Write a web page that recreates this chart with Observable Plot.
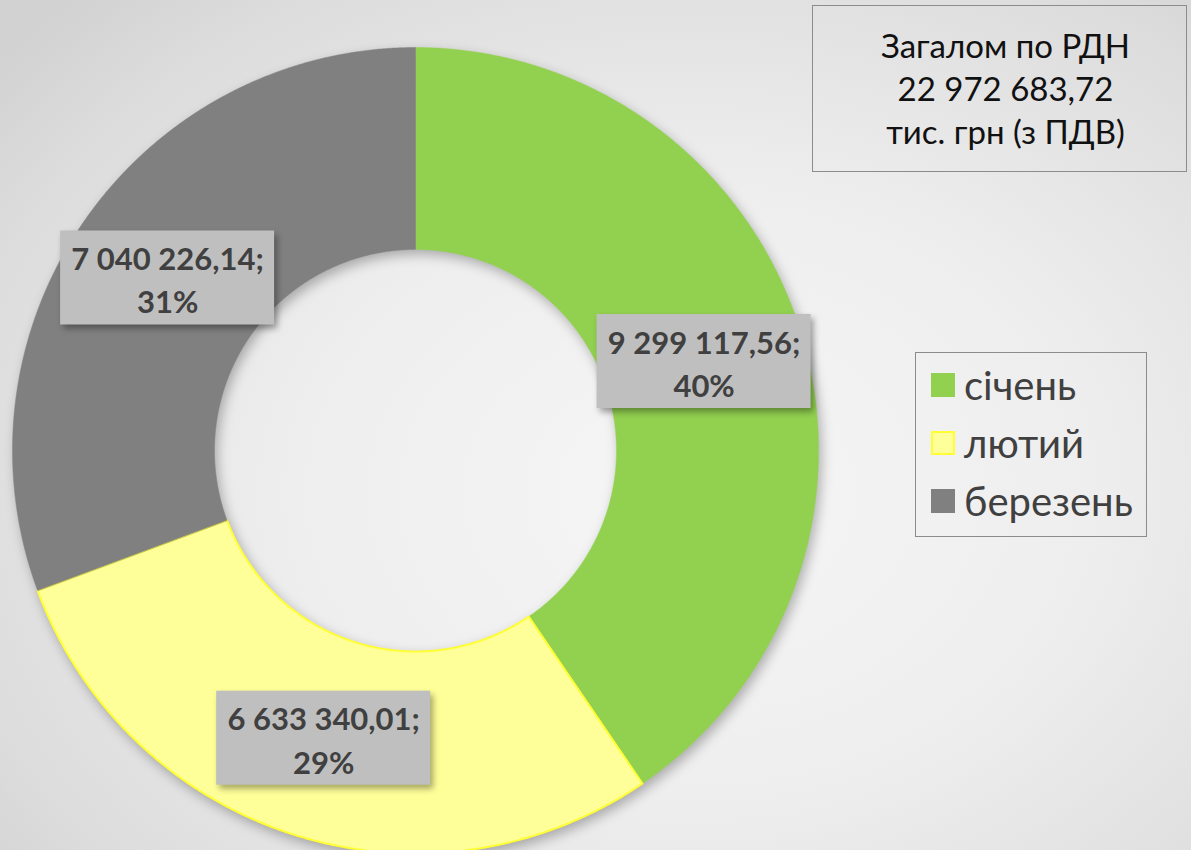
<!DOCTYPE html>
<html>
<head>
<meta charset="utf-8">
<script src="https://cdn.jsdelivr.net/npm/d3@7"></script>
<script src="https://cdn.jsdelivr.net/npm/@observablehq/plot@0.6"></script>
<style>
  html, body { margin: 0; padding: 0; }
  body {
    width: 1191px; height: 850px; overflow: hidden; position: relative;
    background: radial-gradient(ellipse 75% 80% at 58% 58%, #f6f6f6 0%, #eeeeee 45%, #dcdcdc 85%, #d2d2d2 100%);
    font-family: Lato, "Open Sans", sans-serif;
  }
  #chart { position: absolute; left: 0; top: 0; }
  .titlebox {
    position: absolute; left: 812px; top: 5px; width: 375px; height: 167px;
    border: 1.5px solid #8c8c8c; box-sizing: border-box;
    display: flex; flex-direction: column; justify-content: center; align-items: center;
    font-size: 33px; line-height: 43px; color: #111; text-align: center; padding-left: 12px;
  }
  .legend {
    position: absolute; left: 915px; top: 352px; width: 232px; height: 185px;
    border: 1.5px solid #8c8c8c; box-sizing: border-box;
  }
  .legend .item { position: absolute; left: 15px; display: flex; align-items: center; height: 40px; }
  .legend .sw { width: 24px; height: 24px; box-sizing: border-box; margin-right: 9px; }
  .legend .lb { font-size: 40px; color: #404040; }
</style>
</head>
<body>
<div id="chart"></div>
<div class="titlebox" id="title"></div>
<div class="legend" id="legend"></div>
<script>
// ---- data ----
const months = ["січень", "лютий", "березень"];
const values = [9299117.56, 6633340.01, 7040226.14];
const colors = ["#92d050", "#ffff99", "#808080"];
const strokes = ["#92d050", "#ffff33", "#808080"];
const titleLines = ["Загалом по РДН", "22 972 683,72", "тис. грн (з ПДВ)"];

const total = d3.sum(values);
const outerR = 403, innerR = 201;
const W = 1191, H = 850;

const locale = d3.formatLocale({decimal: ",", thousands: " ", grouping: [3], currency: ["", ""]});
const fmt = locale.format(",.2f");

// slice angles (clockwise from top)
let acc = 0;
const slices = months.map((m, i) => {
  const a0 = acc / total * 2 * Math.PI;
  acc += values[i];
  const a1 = acc / total * 2 * Math.PI;
  return {month: m, value: values[i], a0, a1, share: values[i] / total};
});

// polygon vertices for each slice
const pts = [];
for (const s of slices) {
  const n = Math.max(8, Math.ceil((s.a1 - s.a0) / 0.005));
  for (let k = 0; k <= n; k++) {
    const a = s.a0 + (s.a1 - s.a0) * k / n;
    pts.push({month: s.month, x: outerR * Math.sin(a), y: outerR * Math.cos(a)});
  }
  for (let k = n; k >= 0; k--) {
    const a = s.a0 + (s.a1 - s.a0) * k / n;
    pts.push({month: s.month, x: innerR * Math.sin(a), y: innerR * Math.cos(a)});
  }
}

const labels = slices.map(s => {
  const a = (s.a0 + s.a1) / 2, r = (outerR + innerR) / 2;
  return {...s, cx: r * Math.sin(a), cy: r * Math.cos(a),
    text: fmt(s.value) + ";\n" + Math.round(s.share * 100) + "%"};
});

const bw = 214, bh = 94;

const plot = Plot.plot({
  width: W, height: H,
  margin: 0,
  style: {background: "transparent", overflow: "visible"},
  x: {domain: [-415, W - 415], axis: null},
  y: {domain: [-(H - 450), 450], axis: null},
  color: {domain: months, range: colors},
  marks: [
    Plot.line(pts, {x: "x", y: "y", z: "month", fill: "month", stroke: d => d.month, curve: "linear-closed"}),
    Plot.rect(labels, {x1: d => d.cx - bw / 2, x2: d => d.cx + bw / 2, y1: d => d.cy - bh / 2, y2: d => d.cy + bh / 2, fill: "#bfbfbf"}),
    Plot.text(labels, {x: "cx", y: "cy", text: "text", fontSize: 31, fontWeight: "bold", fill: "#404040", lineHeight: 1.39, fontFamily: "Lato, sans-serif"})
  ]
});
document.getElementById("chart").appendChild(plot);

// styling touches: per-slice stroke colors and shadows
const lineG = plot.querySelector('g[aria-label="line"]');
if (lineG) {
  lineG.style.filter = "drop-shadow(3px 5px 6px rgba(0,0,0,0.28))";
  lineG.querySelectorAll("path").forEach((p, i) => {
    p.setAttribute("stroke", strokes[i]);
    p.setAttribute("stroke-width", i === 1 ? 2 : 0.5);
  });
}
const rectG = plot.querySelector('g[aria-label="rect"]');
if (rectG) rectG.style.filter = "drop-shadow(3px 4px 3px rgba(0,0,0,0.35))";

// title box
const title = document.getElementById("title");
titleLines.forEach(t => { const d = document.createElement("div"); d.textContent = t; title.appendChild(d); });

// legend
const legend = document.getElementById("legend");
months.forEach((m, i) => {
  const it = document.createElement("div");
  it.className = "item";
  it.style.top = (12 + i * 58) + "px";
  const sw = document.createElement("div");
  sw.className = "sw";
  sw.style.background = colors[i];
  if (i === 1) sw.style.border = "2px solid #ffff33";
  const lb = document.createElement("div");
  lb.className = "lb";
  lb.textContent = m;
  it.appendChild(sw); it.appendChild(lb);
  legend.appendChild(it);
});
</script>
</body>
</html>
